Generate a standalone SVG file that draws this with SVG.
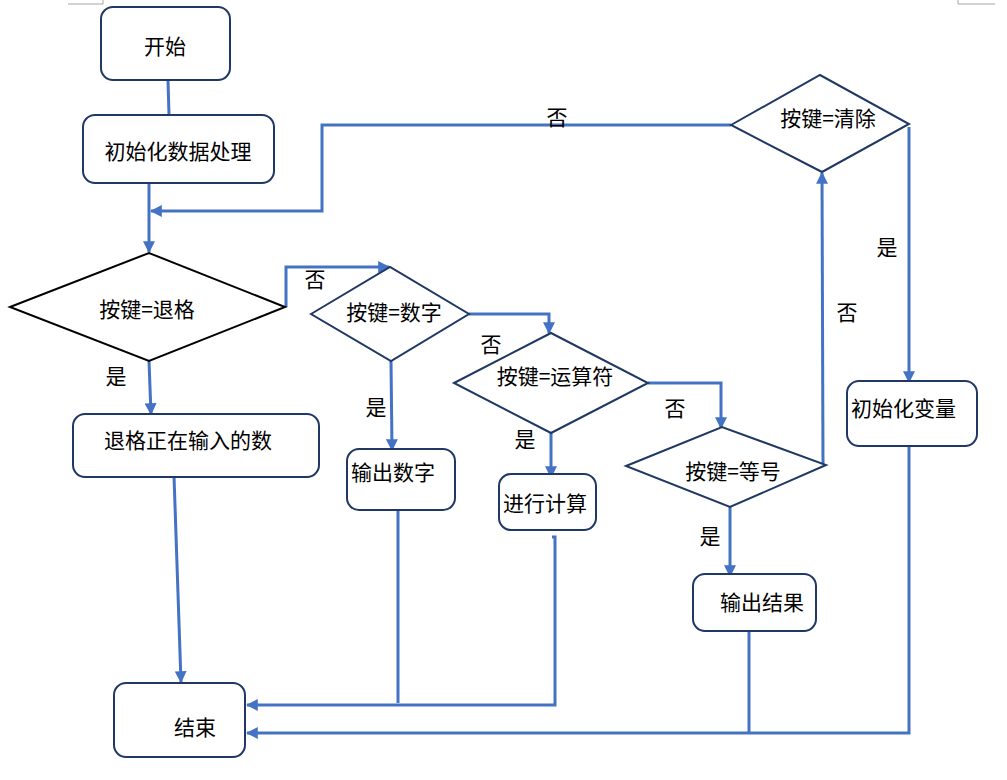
<svg xmlns="http://www.w3.org/2000/svg" width="1007" height="780" viewBox="0 0 1007 780">
<defs>
<style>
.box{fill:#fff;stroke:#1F3864;stroke-width:2}
.dia{fill:#fff;stroke:#1F3864;stroke-width:2}
.dia0{fill:#fff;stroke:#000;stroke-width:2}
.t{font-family:"Noto Sans CJK SC","Liberation Sans",sans-serif;font-size:21px;fill:#000;dominant-baseline:central}
.c{text-anchor:middle}
.ln{fill:none;stroke:#4472C4;stroke-width:3}
.ar{fill:none;stroke:#4472C4;stroke-width:3;marker-end:url(#arr)}
.corner{fill:none;stroke:#a6a6a6;stroke-width:1}
</style>
<marker id="arr" viewBox="0 0 10 10" refX="9" refY="5" markerWidth="4" markerHeight="4" markerUnits="strokeWidth" orient="auto">
<path d="M0,0 L10,5 L0,10 z" fill="#4472C4"/>
</marker>
</defs>
<rect width="1007" height="780" fill="#fff"/>
<g id="corners">
<path class="corner" d="M68,4 H103 V0"/>
<path class="corner" d="M958,0 V4 H995"/>
</g>
<g id="connectors">
<path class="ln" d="M168,80 L169,115"/>
<path class="ar" d="M149,183 V252"/>
<path class="ar" d="M731,125 H322 V211 H151"/>
<path class="ar" d="M286,307 V267 H389"/>
<path class="ar" d="M469,314 H549 V333"/>
<path class="ar" d="M391,361 L392,450"/>
<path class="ar" d="M648,383 H721 V428"/>
<path class="ar" d="M551,433 V477"/>
<path class="ar" d="M823,465 L822,173"/>
<path class="ar" d="M730,507 V576"/>
<path class="ar" d="M909,127 V382"/>
<path class="ar" d="M149,361 L151,414"/>
<path class="ar" d="M174,476 L181,682"/>
<path class="ln" d="M398,510 V703"/>
<path class="ar" d="M552,537 H555 V705 H247"/>
<path class="ln" d="M749,631 V733"/>
<path class="ar" d="M909,443 V733 H247"/>
</g>
<g id="labels">
<text class="t c" x="557" y="116">否</text>
<text class="t c" x="315" y="278">否</text>
<text class="t c" x="116" y="375">是</text>
<text class="t c" x="491" y="343">否</text>
<text class="t c" x="376" y="406">是</text>
<text class="t c" x="675" y="407">否</text>
<text class="t c" x="525" y="438">是</text>
<text class="t c" x="710" y="535">是</text>
<text class="t c" x="847" y="311">否</text>
<text class="t c" x="887" y="246">是</text>
</g>
<g id="start">
<rect class="box" x="101" y="7" width="129" height="73" rx="12"/>
<text class="t c" x="165" y="45">开始</text>
</g>
<g id="init">
<rect class="box" x="83" y="115" width="191" height="68" rx="12"/>
<text class="t c" x="178" y="150">初始化数据处理</text>
</g>
<g id="d_backspace">
<polygon class="dia0" points="10,307 149,253 285,307 149,361"/>
<text class="t c" x="147" y="308">按键=退格</text>
</g>
<g id="d_digit">
<polygon class="dia" points="311,314 390,267 469,314 391,361"/>
<text class="t c" x="394" y="311">按键=数字</text>
</g>
<g id="d_op">
<polygon class="dia" points="454,383 551,333 648,383 551,433"/>
<text class="t c" x="555" y="375">按键=运算符</text>
</g>
<g id="d_eq">
<polygon class="dia" points="626,466 722,427 826,465 730,507"/>
<text class="t c" x="733" y="470">按键=等号</text>
</g>
<g id="d_clear">
<polygon class="dia" points="731,125 820,75 909,124 822,172"/>
<text class="t c" x="828" y="117">按键=清除</text>
</g>
<g id="backspace">
<rect class="box" x="73" y="414" width="246" height="63" rx="12"/>
<text class="t" x="104" y="439">退格正在输入的数</text>
</g>
<g id="out_digit">
<rect class="box" x="347" y="449" width="108" height="61" rx="12"/>
<text class="t" x="351" y="471">输出数字</text>
</g>
<g id="calc">
<rect class="box" x="499" y="474" width="97" height="56" rx="12"/>
<text class="t c" x="545" y="502">进行计算</text>
</g>
<g id="out_result">
<rect class="box" x="693" y="574" width="123" height="57" rx="12"/>
<text class="t" x="720" y="601">输出结果</text>
</g>
<g id="init_var">
<rect class="box" x="847" y="381" width="130" height="65" rx="12"/>
<text class="t" x="851" y="407">初始化变量</text>
</g>
<g id="end">
<rect class="box" x="114" y="683" width="131" height="74" rx="12"/>
<text class="t c" x="195" y="726">结束</text>
</g>
</svg>
